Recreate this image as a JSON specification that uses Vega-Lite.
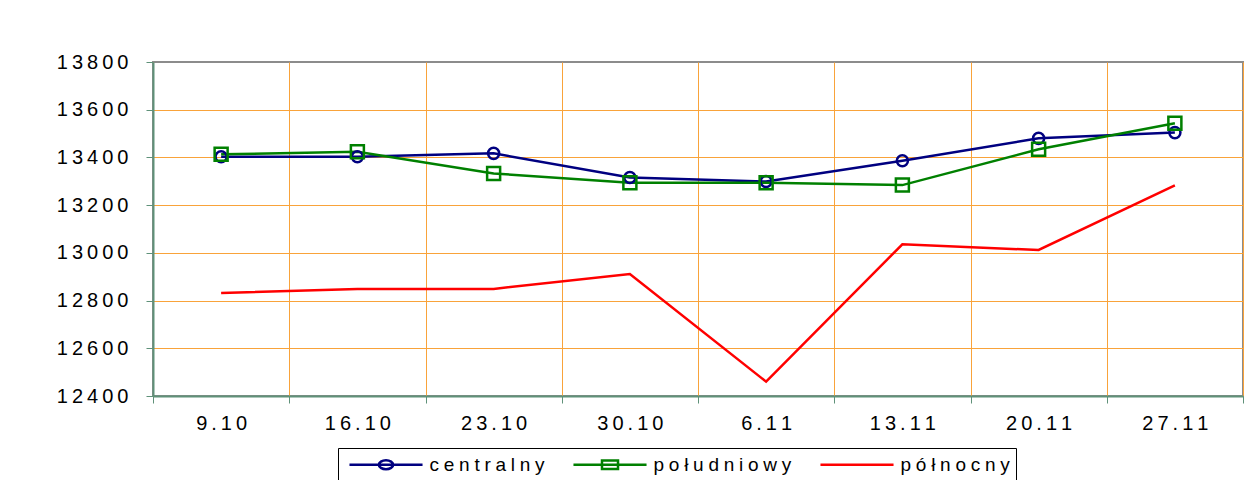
{
  "$schema": "https://vega.github.io/schema/vega-lite/v6.json",
  "width": 1090,
  "height": 334,
  "autosize": {"type": "none"},
  "padding": {"left": 153, "top": 62, "right": 6, "bottom": 84},
  "background": "white",
  "data": {
    "values": [
      {"date": "9.10", "series": "centralny", "value": 13403},
      {"date": "16.10", "series": "centralny", "value": 13403},
      {"date": "23.10", "series": "centralny", "value": 13417},
      {"date": "30.10", "series": "centralny", "value": 13316},
      {"date": "6.11", "series": "centralny", "value": 13299},
      {"date": "13.11", "series": "centralny", "value": 13386},
      {"date": "20.11", "series": "centralny", "value": 13480},
      {"date": "27.11", "series": "centralny", "value": 13504},
      {"date": "9.10", "series": "południowy", "value": 13413},
      {"date": "16.10", "series": "południowy", "value": 13424},
      {"date": "23.10", "series": "południowy", "value": 13333},
      {"date": "30.10", "series": "południowy", "value": 13294},
      {"date": "6.11", "series": "południowy", "value": 13294},
      {"date": "13.11", "series": "południowy", "value": 13284},
      {"date": "20.11", "series": "południowy", "value": 13434},
      {"date": "27.11", "series": "południowy", "value": 13543},
      {"date": "9.10", "series": "północny", "value": 12832},
      {"date": "16.10", "series": "północny", "value": 12849},
      {"date": "23.10", "series": "północny", "value": 12849},
      {"date": "30.10", "series": "północny", "value": 12911},
      {"date": "6.11", "series": "północny", "value": 12460},
      {"date": "13.11", "series": "północny", "value": 13036},
      {"date": "20.11", "series": "północny", "value": 13012},
      {"date": "27.11", "series": "północny", "value": 13283}
    ]
  },
  "encoding": {
    "x": {
      "field": "date",
      "type": "ordinal",
      "sort": null,
      "scale": {"type": "band", "paddingInner": 0, "paddingOuter": 0},
      "axis": {
        "title": null,
        "labelAngle": 0,
        "tickBand": "extent",
        "grid": true,
        "gridColor": "#F9A33A",
        "gridWidth": 1,
        "domainColor": "#5f9179",
        "domainWidth": 2,
        "tickColor": "#5f9179",
        "tickSize": 7,
        "tickWidth": 1,
        "labelFont": "Liberation Sans",
        "labelFontSize": 20,
        "labelColor": "#000000",
        "labelPadding": 10,
        "labelExpr": "join(split(datum.label, ''), '\u2009')"
      }
    },
    "y": {
      "field": "value",
      "type": "quantitative",
      "scale": {"domain": [12400, 13800], "nice": false, "zero": false},
      "axis": {
        "title": null,
        "values": [12400, 12600, 12800, 13000, 13200, 13400, 13600, 13800],
        "format": "d",
        "grid": true,
        "gridColor": {"condition": {"test": "datum.value == 13800 || datum.value == 12400", "value": "transparent"}, "value": "#F9A33A"},
        "gridWidth": 1,
        "domainColor": "#5f9179",
        "domainWidth": 2,
        "tickColor": "#5f9179",
        "tickSize": 7,
        "tickWidth": 1,
        "labelFont": "Liberation Sans",
        "labelFontSize": 20,
        "labelColor": "#000000",
        "labelPadding": 18,
        "labelExpr": "join(split(datum.label, ''), '\u2009')"
      }
    },
    "color": {
      "field": "series",
      "type": "nominal",
      "scale": {
        "domain": ["centralny", "południowy", "północny"],
        "range": ["#000080", "#008000", "#FF0000"]
      },
      "legend": {
        "title": null,
        "orient": "none",
        "direction": "horizontal",
        "legendX": 185,
        "legendY": 386,
        "padding": 6,
        "strokeColor": "#000000",
        "symbolSize": 324,
        "symbolOffset": 31.5,
        "labelOffset": 33,
        "columnPadding": 23,
        "labelFont": "Liberation Sans",
        "labelFontSize": 19,
        "labelColor": "#000000",
        "labelExpr": "join(split(datum.label, ''), '\u2005')",
        "encode": {
          "symbols": {
            "update": {
              "shape": {"signal": "datum.value === 'centralny' ? 'M-4.06,0H4.06M-0.8,0A0.8,0.5 0 1,0 0.8,0A0.8,0.5 0 1,0 -0.8,0' : (datum.value === 'południowy' ? 'M-4.06,0H4.06M-0.89,-0.48H0.89V0.48H-0.89Z' : 'M-4.06,0H4.06')"},
              "fill": {"value": "transparent"},
              "strokeWidth": {"value": 2.5},
              "opacity": {"value": 1}
            }
          }
        }
      }
    }
  },
  "layer": [
    {
      "mark": {"type": "line", "strokeWidth": 2.5}
    },
    {
      "transform": [{"filter": "datum.series !== 'północny'"}],
      "mark": {"type": "point", "filled": false, "strokeWidth": 2.5, "opacity": 1},
      "encoding": {
        "shape": {
          "field": "series",
          "type": "nominal",
          "scale": {"domain": ["centralny", "południowy"], "range": ["circle", "square"]},
          "legend": null
        },
        "size": {
          "field": "series",
          "type": "ordinal",
          "scale": {"domain": ["centralny", "południowy"], "range": [123, 169]},
          "legend": null
        }
      }
    }
  ],
  "config": {
    "view": {"stroke": "#8c8c8c", "strokeWidth": 2},
    "font": "Liberation Sans"
  }
}
